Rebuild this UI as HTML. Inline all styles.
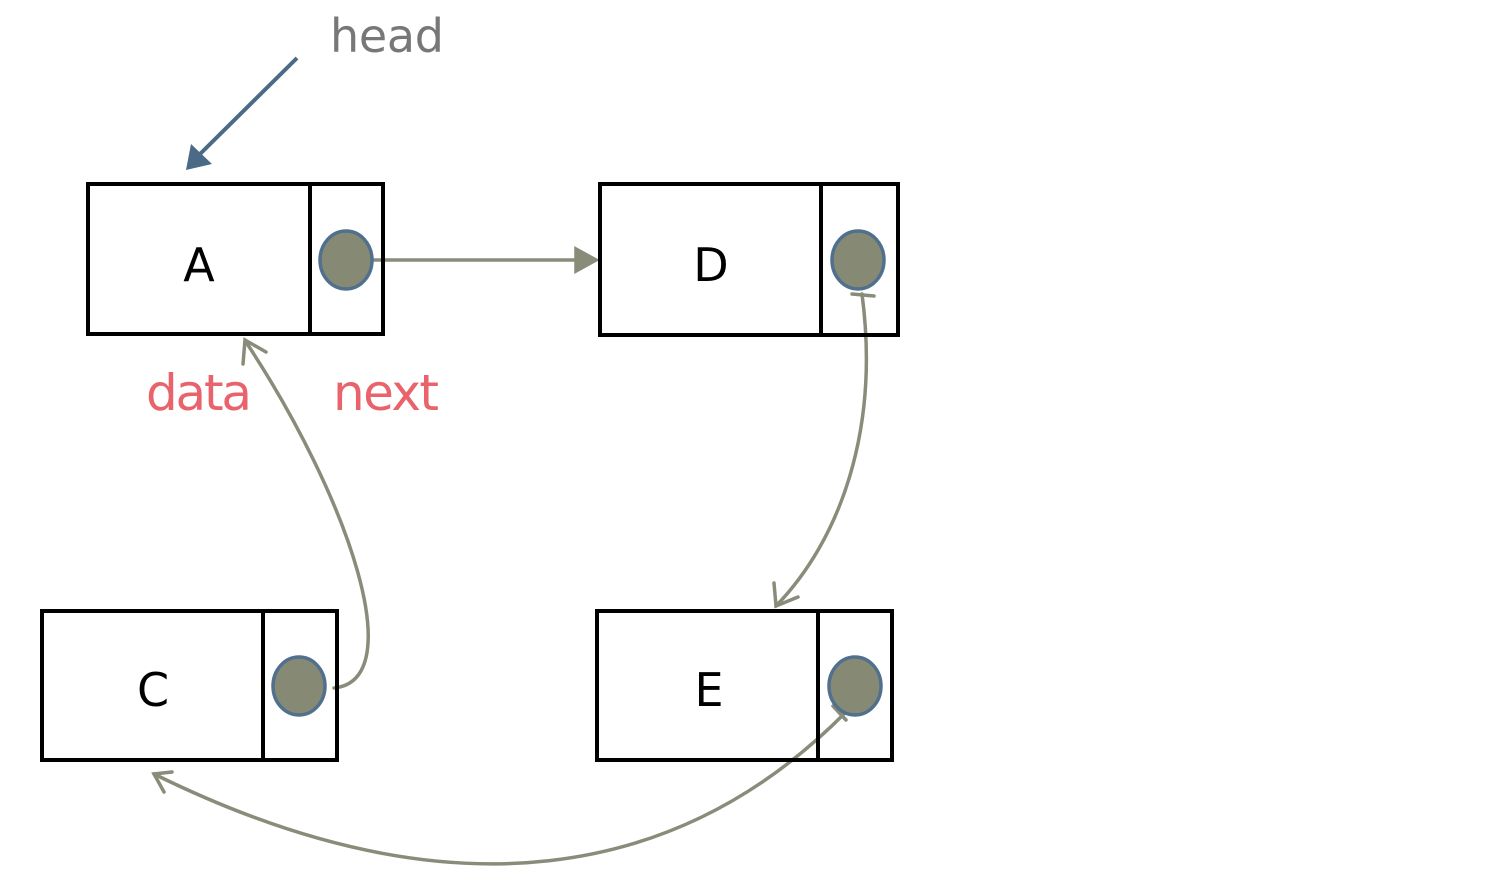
<!DOCTYPE html>
<html><head><style>body{margin:0;background:#fff}svg{display:block}</style></head>
<body>
<svg width="1505" height="896" xmlns="http://www.w3.org/2000/svg" font-family="'DejaVu Sans','Liberation Sans',sans-serif">
<g fill="none" stroke="#8a8c7a" stroke-width="3.5" stroke-linecap="round">
<line x1="372" y1="260" x2="594" y2="260"/>
<path d="M576,249 L596,260 L576,271 Z" fill="#8a8c7a"/>
<path d="M862,294 C880,430 840,540 776,606"/>
<path d="M774,583 L776,606 L798,597"/>
<line x1="852" y1="294" x2="874" y2="296"/>
<path d="M334,688 C410,680 350,500 246,342"/>
<path d="M243,364 L245,340 L266,352"/>
<path d="M846,712 C680,880 450,920 154,774"/>
<path d="M172,772 L154,774 L164,792"/>
<line x1="833" y1="706" x2="846" y2="720"/>
</g>
<line x1="297" y1="58" x2="196" y2="158" stroke="#4a6a86" stroke-width="4"/>
<path d="M186,170 L191,144 L212,164 Z" fill="#4a6a86"/>
<g fill="none" stroke="#000" stroke-width="4">
<rect x="88" y="184" width="295" height="150"/><line x1="310" y1="184" x2="310" y2="334"/>
<rect x="600" y="184" width="298" height="151"/><line x1="821" y1="184" x2="821" y2="335"/>
<rect x="42" y="611" width="295" height="149"/><line x1="263" y1="611" x2="263" y2="760"/>
<rect x="597" y="611" width="295" height="149"/><line x1="818" y1="611" x2="818" y2="760"/>
</g>
<g fill="#868a74" stroke="#50708e" stroke-width="3.5">
<ellipse cx="346" cy="260" rx="26" ry="29"/>
<ellipse cx="858" cy="260" rx="26" ry="29"/>
<ellipse cx="299" cy="686" rx="26" ry="29"/>
<ellipse cx="855" cy="686" rx="26" ry="29"/>
</g>
<g font-size="46" fill="#000" text-anchor="middle">
<text x="199" y="281">A</text><text x="711" y="281">D</text>
<text x="153" y="706">C</text><text x="709" y="706">E</text>
</g>
<text x="330" y="52" font-size="46" fill="#777" textLength="114">head</text>
<text x="146" y="410" font-size="50" fill="#e8636b" textLength="106">data</text>
<text x="333" y="410" font-size="50" fill="#e8636b" textLength="106">next</text>
</svg>
</body></html>
